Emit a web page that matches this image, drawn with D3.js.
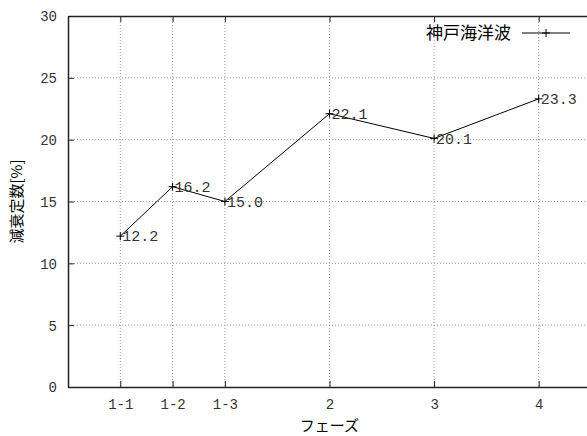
<!DOCTYPE html>
<html><head><meta charset="utf-8">
<script src="https://cdn.jsdelivr.net/npm/d3@7"></script>
<style>body{margin:0;background:#fff}svg{display:block}</style>
</head><body>
<script>
const categories = ["1-1","1-2","1-3","2","3","4"];
const positions = [1, 1.5, 2, 3, 4, 5];
const values = [12.2, 16.2, 15.0, 22.1, 20.1, 23.3];
const valueLabels = ["12.2","16.2","15.0","22.1","20.1","23.3"];
const yTicks = [0,5,10,15,20,25,30];
const seriesName = "神戸海洋波";

const W = 587, H = 436;
const m = {left: 68, top: 16, right: 591, bottom: 387};
const svg = d3.select("body").append("svg").attr("width", W).attr("height", H);
const x = d3.scaleLinear().domain([0.5, 5.5]).range([m.left, m.right]);
const y = d3.scaleLinear().domain([0, 30]).range([m.bottom, m.top]);
const mono = "'Liberation Mono', 'DejaVu Sans Mono', monospace";
const cjk = "'Noto Sans CJK JP', 'Noto Sans', sans-serif";

// grid
const g = svg.append("g");
g.selectAll(".gx").data(positions).enter().append("line")
  .attr("x1", d => x(d)).attr("x2", d => x(d)).attr("y1", m.top).attr("y2", m.bottom)
  .attr("stroke", "#999").attr("stroke-width", 1).attr("stroke-dasharray", "1,2");
g.selectAll(".gy").data(yTicks.slice(1, -1)).enter().append("line")
  .attr("x1", m.left).attr("x2", m.right).attr("y1", d => y(d)).attr("y2", d => y(d))
  .attr("stroke", "#999").attr("stroke-width", 1).attr("stroke-dasharray", "1,2");

// axes (ticks inside)
const xAxis = d3.axisBottom(x).tickValues(positions).tickFormat((d, i) => categories[i]).tickSizeInner(-6).tickSizeOuter(0).tickPadding(12);
const gx = svg.append("g").attr("transform", `translate(0,${m.bottom})`).call(xAxis);
const xTop = d3.axisTop(x).tickValues(positions).tickFormat("").tickSizeInner(-6).tickSizeOuter(0);
const gxt = svg.append("g").attr("transform", `translate(0,${m.top})`).call(xTop);
const yAxis = d3.axisLeft(y).tickValues(yTicks).tickSizeInner(-6).tickSizeOuter(0).tickPadding(11);
const gy = svg.append("g").attr("transform", `translate(${m.left},0)`).call(yAxis);
[gx, gxt, gy].forEach(a => {
  a.selectAll("path").attr("stroke", "#222").attr("stroke-width", 1.5);
  a.selectAll("line").attr("stroke", "#222").attr("stroke-width", 1);
  a.selectAll("text").attr("font-family", mono).attr("font-size", 14).attr("fill", "#333");
});
gy.selectAll("text").attr("dy", "0.35em");

// line
const line = d3.line().x((d, i) => x(positions[i])).y(d => y(d));
svg.append("path").datum(values).attr("d", line).attr("fill", "none").attr("stroke", "#000").attr("stroke-width", 1);

// markers
const pts = svg.selectAll(".pt").data(values).enter().append("g")
  .attr("transform", (d, i) => `translate(${x(positions[i])},${y(d)})`);
pts.append("path").attr("d", "M-4,0H4M0,-4V4").attr("stroke", "#000").attr("stroke-width", 1);
pts.append("text").text((d, i) => valueLabels[i]).attr("x", 2).attr("dy", "0.35em")
  .attr("font-family", mono).attr("font-size", 15).attr("fill", "#333");

// legend
svg.append("text").attr("x", 511).attr("y", 39).attr("text-anchor", "end")
  .attr("font-family", cjk).attr("font-size", 17).attr("fill", "#000").text(seriesName);
svg.append("line").attr("x1", 522).attr("x2", 570).attr("y1", 33).attr("y2", 33).attr("stroke", "#000");
svg.append("path").attr("d", "M542,33H550M546,29V37").attr("stroke", "#000");

// axis titles
svg.append("text").attr("x", (m.left + m.right) / 2).attr("y", 431).attr("text-anchor", "middle")
  .attr("font-family", cjk).attr("font-size", 15).attr("fill", "#000").text("フェーズ");
svg.append("text").attr("transform", `translate(22,${(m.top + m.bottom) / 2}) rotate(-90)`)
  .attr("text-anchor", "middle").attr("font-family", cjk).attr("font-size", 15).attr("fill", "#000").text("減衰定数[%]");
</script>
</body></html>
